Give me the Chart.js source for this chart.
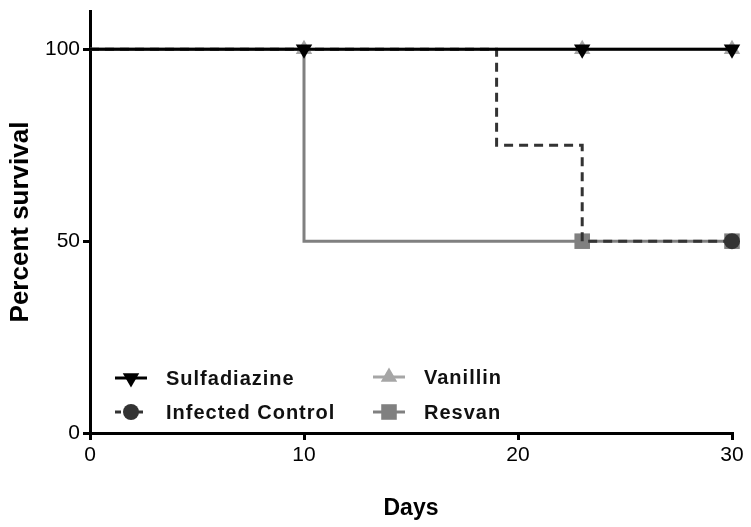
<!DOCTYPE html>
<html>
<head>
<meta charset="utf-8">
<script src="https://cdn.jsdelivr.net/npm/chart.js@4.4.1/dist/chart.umd.min.js"></script>
<style>
  html, body { margin: 0; padding: 0; background: #fff; }
  #wrap { width: 751px; height: 527px; position: relative; }
</style>
</head>
<body>
<div id="wrap"><canvas id="survChart"></canvas></div>
<script>
// Kaplan-Meier steps: days, percent survival, censored marks (1 = mark)
const seriesNames = ['Sulfadiazine', 'Infected Control', 'Vanillin', 'Resvan'];

const sulfaDays = [0, 10, 23, 30];
const sulfaSurv = [100, 100, 100, 100];
const sulfaCens = [0, 1, 1, 1];

const infectedDays = [0, 19, 23, 30];
const infectedSurv = [100, 75, 50, 50];
const infectedCens = [0, 0, 0, 1];

const vanillinDays = [0, 10, 23, 30];
const vanillinSurv = [100, 100, 100, 100];
const vanillinCens = [0, 1, 1, 1];

const resvanDays = [0, 10, 23, 30];
const resvanSurv = [100, 50, 50, 50];
const resvanCens = [0, 0, 1, 1];

const xTicks = [0, 10, 20, 30];
const yTicks = [0, 50, 100];

function pts(days, surv) {
    return days.map((d, i) => ({ x: d, y: surv[i] }));
}

const styles = [
    { color: '#000000', style: 'triangle', rot: 180, r: 9.5, dash: [] },
    { color: '#333333', style: 'circle', rot: 0, r: 8, dash: [9, 6] },
    { color: '#a6a6a6', style: 'triangle', rot: 0, r: 9.5, dash: [] },
    { color: '#808080', style: 'rect', rot: 0, r: 11, dash: [] }
];

const allDays = [sulfaDays, infectedDays, vanillinDays, resvanDays];
const allSurv = [sulfaSurv, infectedSurv, vanillinSurv, resvanSurv];
const allCens = [sulfaCens, infectedCens, vanillinCens, resvanCens];

const datasets = seriesNames.map((name, k) => ({
    label: name,
    data: pts(allDays[k], allSurv[k]),
    stepped: true,
    borderColor: styles[k].color,
    backgroundColor: styles[k].color,
    borderWidth: 3,
    borderDash: styles[k].dash,
    pointStyle: styles[k].style,
    rotation: styles[k].rot,
    pointRadius: allCens[k].map(c => c ? styles[k].r : 0),
    pointBorderWidth: 0,
    pointHoverRadius: 0,
    clip: false
}));

// legend drawn inside the plot, two columns like the original
const insideLegend = {
    id: 'insideLegend',
    afterDraw(chart) {
        const ctx = chart.ctx;
        const spots = [[115, 378], [115, 412], [373, 377], [373, 412]];
        ctx.save();
        seriesNames.forEach((name, k) => {
            const s = styles[k];
            const [x, y] = spots[k];
            ctx.strokeStyle = s.color;
            ctx.lineWidth = 3;
            ctx.setLineDash(s.dash.length ? [6, 5] : []);
            ctx.beginPath();
            ctx.moveTo(x, y);
            ctx.lineTo(x + 32, y);
            ctx.stroke();
            ctx.setLineDash([]);
            ctx.fillStyle = s.color;
            Chart.helpers.drawPoint(ctx, {
                pointStyle: s.style, rotation: s.rot, radius: s.r, borderWidth: 0
            }, x + 16, y);
            ctx.fillStyle = '#111';
            ctx.font = 'bold 20px "Liberation Sans", Arial, sans-serif';
            ctx.letterSpacing = '1px';
            ctx.textBaseline = 'middle';
            ctx.fillText(name, x + 51, y + 1);
        });
        ctx.restore();
    }
};

const axisFont = { family: '"Liberation Sans", Arial, sans-serif', size: 21 };

new Chart(document.getElementById('survChart'), {
    type: 'line',
    data: { datasets: datasets },
    plugins: [insideLegend],
    options: {
        responsive: true,
        maintainAspectRatio: false,
        animation: false,
        layout: { padding: { left: 0, right: 19, top: 7, bottom: 0 } },
        plugins: { legend: { display: false }, tooltip: { enabled: false } },
        scales: {
            x: {
                type: 'linear',
                min: 0,
                max: 30,
                afterBuildTicks: s => { s.ticks = xTicks.map(v => ({ value: v })); },
                afterFit: s => { s.height = 94; },
                border: { display: true, width: 3, color: '#000' },
                grid: { drawOnChartArea: false, drawTicks: true, tickLength: 7, lineWidth: 3, color: '#000' },
                ticks: { color: '#000', font: axisFont, padding: 3, maxRotation: 0 },
                title: {
                    display: true, text: 'Days', color: '#000',
                    font: { family: axisFont.family, size: 23, weight: 'bold' },
                    padding: { top: 0, bottom: 5 }
                }
            },
            y: {
                min: 0,
                max: 110,
                afterBuildTicks: s => { s.ticks = yTicks.map(v => ({ value: v })); },
                afterFit: s => { s.width = 90; s.paddingTop = 0; },
                border: { display: true, width: 3, color: '#000' },
                grid: { drawOnChartArea: false, drawTicks: true, tickLength: 7, lineWidth: 3, color: '#000' },
                ticks: { color: '#000', font: axisFont, padding: 3 },
                title: {
                    display: true, text: 'Percent survival', color: '#000',
                    font: { family: axisFont.family, size: 26, weight: 'bold' },
                    padding: { top: 5, bottom: 0 }
                }
            }
        }
    }
});
</script>
</body>
</html>
